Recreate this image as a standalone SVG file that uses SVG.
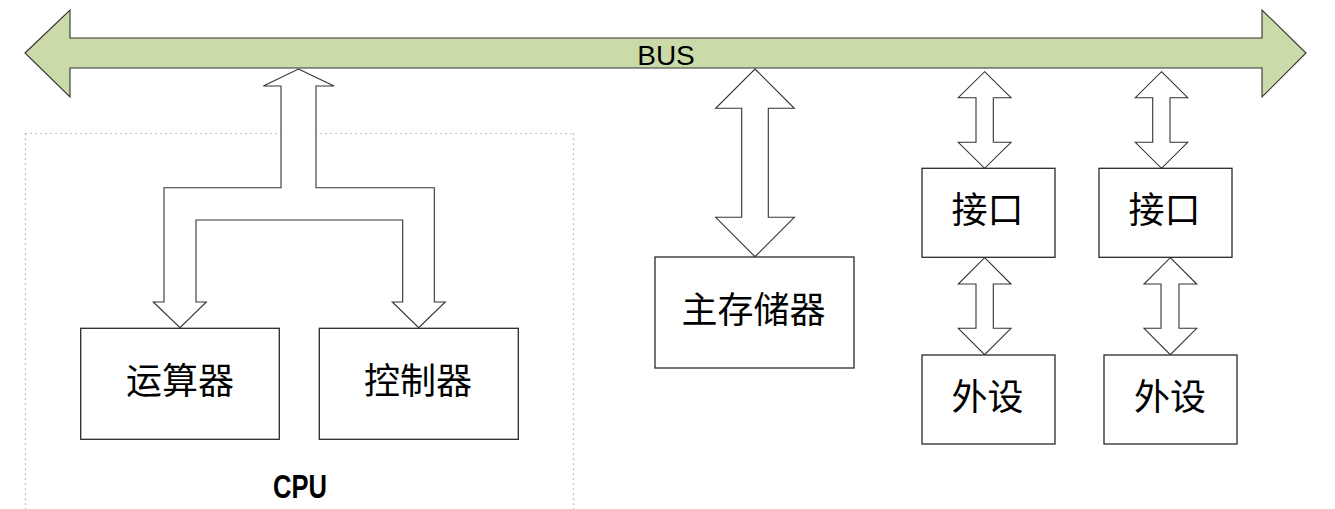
<svg xmlns="http://www.w3.org/2000/svg" width="1335" height="509" viewBox="0 0 1335 509">
<style>
.box{fill:#fff;stroke:#2a2a2a;stroke-width:1.3}
.arr{fill:#fff;stroke:#333;stroke-width:1.1;stroke-linejoin:miter}
.cn{font-family:"Noto Sans CJK SC","Noto Sans",sans-serif;font-size:36px;fill:#000;text-anchor:middle;dominant-baseline:central}
</style>
<rect width="1335" height="509" fill="#fff"/>
<g id="cpu-frame">
<path d="M25.5 133.5 H573.5 M25.5 133.5 V509 M573.5 133.5 V509" fill="none" stroke="#999" stroke-width="1.2" stroke-dasharray="1.2 3.8"/>
<text x="300" y="498" font-family="Liberation Sans, sans-serif" font-weight="bold" font-size="34" text-anchor="middle" textLength="54" lengthAdjust="spacingAndGlyphs">CPU</text>
</g>
<g id="bus">
<polygon points="25,53 70,10 70,38 1262,38 1262,10 1306,53 1262,97 1262,68 70,68 70,97" fill="#cbdaa9" stroke="#333" stroke-width="1.1"/>
<text x="666" y="64.5" font-family="Liberation Sans, Arial, sans-serif" font-size="28" text-anchor="middle" fill="#000">BUS</text>
</g>
<g id="connectors">
<polygon class="arr" points="298.5,69 334,86 316,86 316,187.7 434.3,187.7 434.3,302 445.3,302 418.7,327.7 392.3,302 402.7,302 402.7,220 196,220 196,302 206.3,302 180,327.7 153.3,302 164,302 164,187.7 281,187.7 281,86 263.3,86"/>
<polygon class="arr" points="755,69 794.3,108.3 768.3,108.3 768.3,217.3 794.3,217.3 755,256.7 715.7,217.3 741.7,217.3 741.7,108.3 715.7,108.3"/>
<polygon class="arr" points="984.6,71.7 1011,97.7 993.3,97.7 993.3,142.3 1011,142.3 984.6,168.3 958.3,142.3 976,142.3 976,97.7 958.3,97.7"/>
<polygon class="arr" points="1161.5,71.7 1187.7,97.7 1170,97.7 1170,142.3 1187.7,142.3 1161.5,168.3 1135.3,142.3 1152.7,142.3 1152.7,97.7 1135.3,97.7"/>
<polygon class="arr" points="984.6,257.7 1011,284 993.3,284 993.3,328.3 1011,328.3 984.6,354.7 958.3,328.3 976,328.3 976,284 958.3,284"/>
<polygon class="arr" points="1170.3,257.7 1196.7,284 1179,284 1179,328.3 1196.7,328.3 1170.3,354.7 1144,328.3 1161,328.3 1161,284 1144,284"/>
</g>
<g id="alu">
<rect class="box" x="80.7" y="328.3" width="198.6" height="111"/>
<text class="cn" x="180" y="378">运算器</text>
</g>
<g id="control">
<rect class="box" x="319.3" y="328.3" width="199" height="111"/>
<text class="cn" x="418" y="378">控制器</text>
</g>
<g id="memory">
<rect class="box" x="655" y="257" width="199" height="111"/>
<text class="cn" x="753.5" y="307">主存储器</text>
</g>
<g id="interface1">
<rect class="box" x="922" y="168.3" width="133" height="89"/>
<text class="cn" x="987.5" y="207">接口</text>
</g>
<g id="interface2">
<rect class="box" x="1099" y="168.3" width="133" height="89"/>
<text class="cn" x="1164.5" y="207">接口</text>
</g>
<g id="device1">
<rect class="box" x="922" y="355" width="133" height="89"/>
<text class="cn" x="987.5" y="394">外设</text>
</g>
<g id="device2">
<rect class="box" x="1104" y="355" width="133" height="89"/>
<text class="cn" x="1170" y="394">外设</text>
</g>
</svg>
